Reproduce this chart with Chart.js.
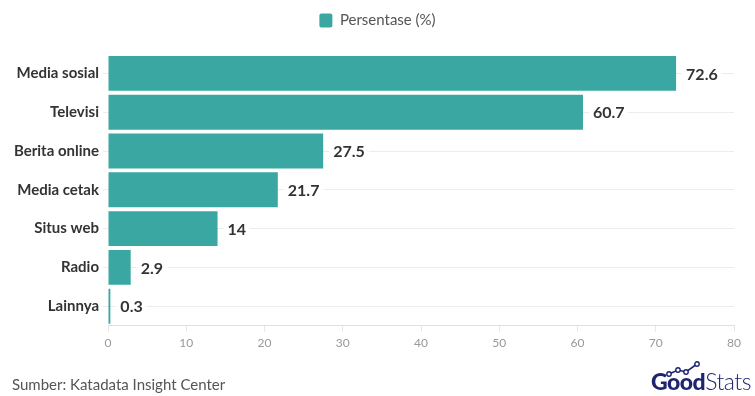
<!DOCTYPE html>
<html>
<head>
<meta charset="utf-8">
<script src="https://cdn.jsdelivr.net/npm/chart.js@4.4.1/dist/chart.umd.min.js"></script>
<style>
  html, body { margin: 0; padding: 0; background: #fff; }
  #wrap { position: relative; width: 755px; height: 396px; }
  #source { position: absolute; left: 12px; top: 375px; font: 15px Lato, sans-serif; color: #555; }
  #logo { position: absolute; right: 4px; top: 367px; font: 23px Lato, sans-serif; color: #1f2370; letter-spacing: -0.5px; }
  #logo b { font-weight: 900; }
  #logo span { font-weight: 300; }
  #logo svg { position: absolute; left: 14px; top: -6px; }
</style>
</head>
<body>
<div id="wrap">
  <canvas id="chart" width="755" height="396"></canvas>
  <div id="source">Sumber: Katadata Insight Center</div>
  <div id="logo">
    <svg width="40" height="16" viewBox="0 0 40 16"><polyline points="4,13 13,9 21,11 32,3" fill="none" stroke="#1f2370" stroke-width="1.6"/><circle cx="4" cy="13" r="2.2" fill="#fff" stroke="#1f2370" stroke-width="1.4"/><circle cx="13" cy="9" r="2.2" fill="#fff" stroke="#1f2370" stroke-width="1.4"/><circle cx="21" cy="11" r="2.2" fill="#fff" stroke="#1f2370" stroke-width="1.4"/><circle cx="32" cy="3" r="2.2" fill="#fff" stroke="#1f2370" stroke-width="1.4"/></svg>
    <b>Good</b><span>Stats</span>
  </div>
</div>
<script>
const categories = ['Media sosial', 'Televisi', 'Berita online', 'Media cetak', 'Situs web', 'Radio', 'Lainnya'];
const persentase = [72.6, 60.7, 27.5, 21.7, 14, 2.9, 0.3];
const xTicks = [0, 10, 20, 30, 40, 50, 60, 70, 80];

const barColor = '#3aa7a2';

// label nilai di ujung bar, dengan latar putih
const valueLabels = {
  id: 'valueLabels',
  afterDatasetsDraw(chart) {
    const ctx = chart.ctx;
    const meta = chart.getDatasetMeta(0);
    ctx.save();
    ctx.font = 'bold 16px Lato, sans-serif';
    ctx.textBaseline = 'middle';
    meta.data.forEach((bar, i) => {
      const txt = String(persentase[i]);
      const x = bar.x + 10;
      const w = ctx.measureText(txt).width;
      ctx.fillStyle = '#fff';
      ctx.fillRect(x - 4, bar.y - 9, w + 8, 18);
      ctx.fillStyle = '#333';
      ctx.fillText(txt, x, bar.y + 1);
    });
    ctx.restore();
  }
};

// jarak di bawah legenda + legenda di tengah kanvas
const legendGap = {
  id: 'legendGap',
  beforeInit(chart) {
    const fit = chart.legend.fit;
    chart.legend.fit = function () {
      fit.bind(chart.legend)();
      this.height += 16;
    };
  },
  afterLayout(chart) {
    chart.legend.left = 0;
    chart.legend.right = chart.width;
    chart.legend.width = chart.width;
  }
};

new Chart(document.getElementById('chart'), {
  type: 'bar',
  data: {
    labels: categories,
    datasets: [{
      label: 'Persentase (%)',
      data: persentase,
      backgroundColor: barColor,
      borderWidth: 0,
      barPercentage: 0.9,
      categoryPercentage: 1
    }]
  },
  options: {
    indexAxis: 'y',
    responsive: false,
    animation: false,
    layout: { padding: { top: 13, right: 21, bottom: 42, left: 0 } },
    plugins: {
      legend: {
        position: 'top',
        labels: {
          font: { family: 'Lato', size: 15 },
          color: '#555',
          boxWidth: 13,
          boxHeight: 14,
          useBorderRadius: true,
          borderRadius: 2,
          padding: 0
        }
      },
      tooltip: { enabled: false }
    },
    scales: {
      x: {
        min: 0,
        max: 80,
        afterBuildTicks: scale => { scale.ticks = xTicks.map(v => ({ value: v })); },
        ticks: { color: '#999', font: { family: 'Lato', size: 12 }, padding: 4 },
        grid: { drawOnChartArea: false, drawTicks: true, tickLength: 6, color: '#e6e6e6' },
        border: { display: true, color: '#e0e0e0' }
      },
      y: {
        afterFit: scale => { scale.width = 108; },
        ticks: { color: '#333', font: { family: 'Lato', size: 15, weight: 'bold' }, padding: 4 },
        grid: { color: '#ececec', tickLength: 5, offset: false },
        border: { display: false }
      }
    }
  },
  plugins: [valueLabels, legendGap]
});
</script>
</body>
</html>
